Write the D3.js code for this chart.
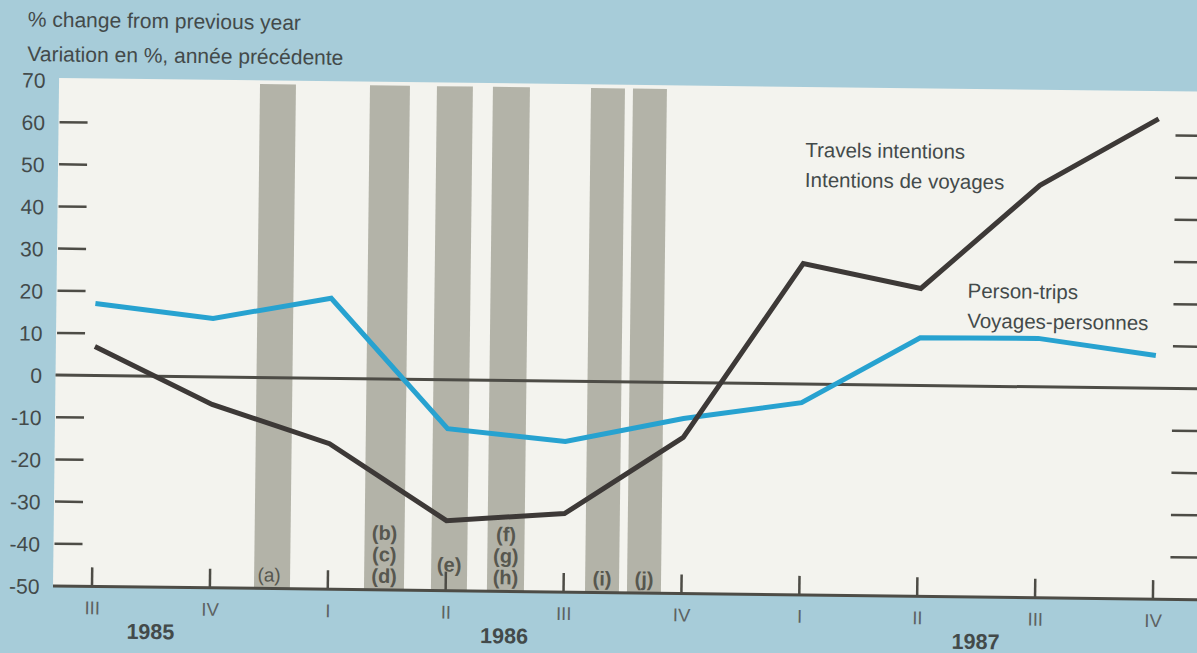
<!DOCTYPE html>
<html>
<head>
<meta charset="utf-8">
<script src="https://cdn.jsdelivr.net/npm/d3@7"></script>
<style>
  html, body { margin: 0; padding: 0; background: #a7ccd9; }
  svg { display: block; }
  text { font-family: "Liberation Sans", Arial, Helvetica, sans-serif; }
</style>
</head>
<body>
<svg id="chart" width="1197" height="653"></svg>
<script>
// ---------------- DATA ----------------
const titleLines = ["% change from previous year", "Variation en %, année précédente"];
const quarterLabels = ["III", "IV", "I", "II", "III", "IV", "I", "II", "III", "IV"];
const yearLabels = ["1985", "1986", "1987"];
const yearPositions = [0.5, 3.5, 7.5]; // in quarter-index units
const yTickValues = [70, 60, 50, 40, 30, 20, 10, 0, -10, -20, -30, -40, -50];
const yMarkValues = [60, 50, 40, 30, 20, 10, -10, -20, -30, -40];

const personTrips = [17.1, 13.9, 19.0, -11.6, -14.3, -8.5, -4.4, 11.3, 11.5, 7.8];
const travelIntentions = [6.9, -6.5, -15.5, -33.4, -31.4, -13.0, 28.6, 23.0, 47.8, 63.9];

const eventStart = [1.374, 2.307, 2.875, 3.350, 4.182, 4.538];
const eventEnd   = [1.679, 2.646, 3.180, 3.664, 4.470, 4.826];
const eventLabels = [["(a)"], ["(b)", "(c)", "(d)"], ["(e)"], ["(f)", "(g)", "(h)"], ["(i)"], ["(j)"]];

const seriesLabels = {
  travel: ["Travels intentions", "Intentions de voyages"],
  trips: ["Person-trips", "Voyages-personnes"]
};

// ---------------- STYLE ----------------
const C = {
  bg: "#a7ccd9",
  plot: "#f3f3ee",
  bar: "#b3b3a8",
  dark: "#3d3937",
  blue: "#27a2d0",
  axis: "#4d4c46",
  text: "#434a4a",
  qtext: "#5d6262"
};

const svg = d3.select("#chart");
svg.append("rect").attr("width", 1197).attr("height", 653).attr("fill", C.bg);

// whole scan is slightly rotated
const g = svg.append("g").attr("transform", "rotate(0.6875 60 586)");

const x = d3.scaleLinear().domain([0, quarterLabels.length - 1]).range([92, 1153]);
const y = d3.scaleLinear().domain([-50, 70]).range([586, 80]);

const plotLeft = 53, plotRight = 1320;

// plot background
g.append("rect")
  .attr("x", plotLeft).attr("y", y(70) - 2)
  .attr("width", plotRight - plotLeft).attr("height", y(-50) - y(70) + 2)
  .attr("fill", C.plot);

// title
g.append("g").selectAll("text").data(titleLines).join("text")
  .attr("x", 21).attr("y", (d, i) => 27 + i * 34.5)
  .attr("font-size", 21).attr("fill", C.text)
  .text(d => d);

// event bars
const events = eventStart.map((s, i) => ({ s, e: eventEnd[i], labels: eventLabels[i] }));
g.append("g").selectAll("rect").data(events).join("rect")
  .attr("x", d => x(d.s)).attr("width", d => x(d.e) - x(d.s))
  .attr("y", y(69.6)).attr("height", y(-50) - y(69.6))
  .attr("fill", C.bar);

// event labels
const labelG = g.append("g");
events.forEach(ev => {
  const cx = (x(ev.s) + x(ev.e)) / 2;
  const nearTick = quarterLabels.some((q, i) => Math.abs(x(i) - cx) < 15);
  const base = 579 - (nearTick ? 12 : 0);
  const n = ev.labels.length;
  ev.labels.forEach((lab, j) => {
    const serif = lab === "(a)";
    labelG.append("text")
      .attr("x", cx - (serif ? 3 : 0)).attr("y", base - (n - 1 - j) * 21.5)
      .attr("text-anchor", "middle")
      .attr("font-size", serif ? 19 : 20)
      .attr("font-weight", serif ? "normal" : "bold")
      .attr("font-family", serif ? "'Liberation Serif', 'DejaVu Serif', serif" : null)
      .attr("fill", "#57574f")
      .text(lab);
  });
});

// y axis labels (left)
const yAxis = d3.axisLeft(y).tickValues(yTickValues).tickSize(0).tickPadding(0).tickFormat(d => String(d));
const yAxisG = g.append("g").attr("transform", "translate(39.5,0)").call(yAxis);
yAxisG.select(".domain").remove();
yAxisG.selectAll("text")
  .attr("font-size", 21).attr("fill", C.text)
  .attr("font-family", "'Liberation Sans', Arial, sans-serif")
  .attr("dy", "0.36em");

// tick marks left and right
g.append("g").selectAll("line").data(yMarkValues).join("line")
  .attr("x1", plotLeft + 1).attr("x2", 82)
  .attr("y1", d => y(d)).attr("y2", d => y(d))
  .attr("stroke", C.axis).attr("stroke-width", 2.5);
g.append("g").selectAll("line").data(yMarkValues).join("line")
  .attr("x1", 1170).attr("x2", plotRight)
  .attr("y1", d => y(d)).attr("y2", d => y(d))
  .attr("stroke", C.axis).attr("stroke-width", 2.5);

// zero line
g.append("line")
  .attr("x1", plotLeft).attr("x2", plotRight)
  .attr("y1", y(0)).attr("y2", y(0))
  .attr("stroke", C.axis).attr("stroke-width", 3);

// bottom axis
const xAxis = d3.axisBottom(x).tickValues(d3.range(quarterLabels.length))
  .tickSize(0).tickPadding(0).tickFormat(i => quarterLabels[i]);
const xAxisG = g.append("g").attr("transform", `translate(0,${y(-50)})`).call(xAxis);
xAxisG.select(".domain").remove();
xAxisG.selectAll("text")
  .attr("y", 28).attr("dy", 0)
  .attr("font-size", 18.5).attr("fill", C.qtext)
  .attr("font-family", "'Liberation Sans', Arial, sans-serif");

g.append("g").selectAll("line").data(d3.range(quarterLabels.length)).join("line")
  .attr("x1", d => x(d)).attr("x2", d => x(d))
  .attr("y1", y(-50)).attr("y2", y(-50) - 19)
  .attr("stroke", C.axis).attr("stroke-width", 2.5);

g.append("line")
  .attr("x1", plotLeft).attr("x2", plotRight)
  .attr("y1", y(-50)).attr("y2", y(-50))
  .attr("stroke", C.axis).attr("stroke-width", 3);

// years
g.append("g").selectAll("text").data(yearLabels).join("text")
  .attr("x", (d, i) => x(yearPositions[i])).attr("y", 638)
  .attr("text-anchor", "middle")
  .attr("font-size", 21.5).attr("font-weight", "bold").attr("fill", C.text)
  .text(d => d);

// lines
const line = d3.line().x((d, i) => x(i)).y(d => y(d));
g.append("path").datum(personTrips)
  .attr("d", line).attr("fill", "none")
  .attr("stroke", C.blue).attr("stroke-width", 5).attr("stroke-linejoin", "miter");
g.append("path").datum(travelIntentions)
  .attr("d", line).attr("fill", "none")
  .attr("stroke", C.dark).attr("stroke-width", 5).attr("stroke-linejoin", "miter");

// series labels
g.append("g").selectAll("text").data(seriesLabels.travel).join("text")
  .attr("x", 800).attr("y", (d, i) => 148 + i * 30)
  .attr("font-size", 20.5).attr("fill", C.text).text(d => d);
g.append("g").selectAll("text").data(seriesLabels.trips).join("text")
  .attr("x", 964).attr("y", (d, i) => 287 + i * 30)
  .attr("font-size", 20.5).attr("fill", C.text).text(d => d);
</script>
</body>
</html>
